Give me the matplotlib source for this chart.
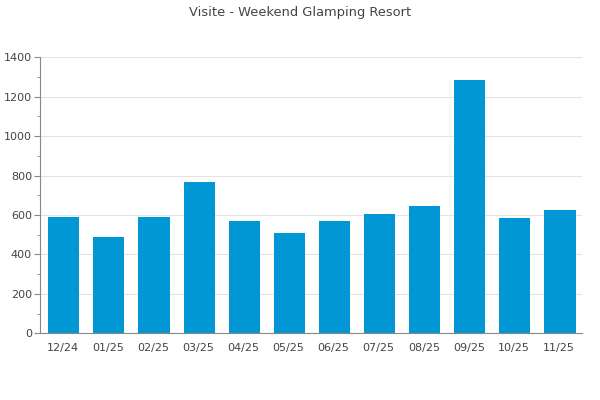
import numpy as np
import matplotlib
matplotlib.use("Agg")
import matplotlib.pyplot as plt
from matplotlib.ticker import MultipleLocator

# dati
months = ["12/24", "01/25", "02/25", "03/25", "04/25", "05/25",
          "06/25", "07/25", "08/25", "09/25", "10/25", "11/25"]
visits = [590, 489, 590, 768, 570, 509, 570, 605, 646, 1285, 585, 626]

text_col = "#444444"
axis_col = "#888888"

fig = plt.figure(figsize=(6, 4), dpi=100)
ax = fig.add_axes([40.3 / 600, 1 - 333.3 / 400, (581.7 - 40.3) / 600, (333.3 - 57.3) / 400])

x = np.arange(len(months))
ax.bar(x + 0.02, visits, width=0.69, color="#0097D4", zorder=2)

ax.set_xlim(-0.5, len(months) - 0.5)
ax.set_ylim(0, 1400)
ax.yaxis.set_major_locator(MultipleLocator(200))
ax.yaxis.set_minor_locator(MultipleLocator(100))
ax.grid(axis="y", which="major", color="#e3e3e3", linewidth=0.8, zorder=0)

ax.set_xticks(x)
ax.set_xticklabels(months)
ax.tick_params(axis="x", length=0, pad=7, labelsize=8, labelcolor=text_col)
ax.tick_params(axis="y", which="major", length=4, color=axis_col, labelsize=8, labelcolor=text_col, pad=2)
ax.tick_params(axis="y", which="minor", length=2, color=axis_col)

for s in ["top", "right"]:
    ax.spines[s].set_visible(False)
for s in ["left", "bottom"]:
    ax.spines[s].set_color(axis_col)
    ax.spines[s].set_linewidth(0.8)

fig.text(0.5, 1 - 12.5 / 400, "Visite - Weekend Glamping Resort", ha="center", va="center",
         fontsize=9.4, color=text_col)

plt.savefig("out.png", dpi=100)
